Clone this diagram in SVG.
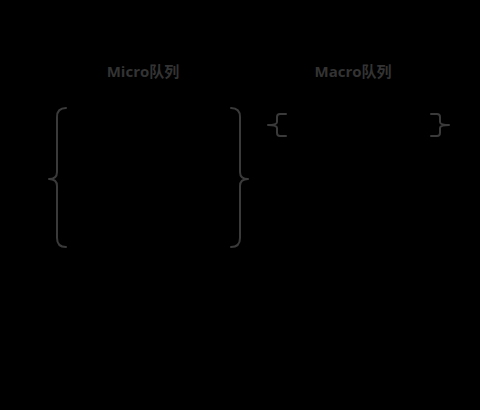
<svg xmlns="http://www.w3.org/2000/svg" width="480" height="410" viewBox="0 0 480 410">
<style>
.bg{fill:#000}
.brace{fill:none;stroke:#3a3a3a;stroke-width:2;stroke-linecap:round;stroke-linejoin:round}
.lbl{font-family:"Open Sans","Noto Sans CJK SC",sans-serif;font-weight:bold;font-size:15px;fill:#333;text-anchor:middle}
</style>
<rect class="bg" x="0" y="0" width="480" height="410"/>
<g id="micro">
<text class="lbl" x="143" y="77">Micro队列</text>
<path class="brace" d="M66,108 Q57,108 57,117 L57,172 Q57,179 49,179 Q57,179 57,186 L57,238 Q57,247 66,247"/>
<path class="brace" d="M231,108 Q240,108 240,117 L240,172 Q240,179 248,179 Q240,179 240,186 L240,238 Q240,247 231,247"/>
</g>
<g id="macro">
<text class="lbl" x="353" y="77">Macro队列</text>
<path class="brace" d="M286,114 L280,114 Q277,114 277,117 L277,122 Q277,125 268,125 Q277,125 277,128 L277,133 Q277,136 280,136 L286,136"/>
<path class="brace" d="M431,114 L437,114 Q440,114 440,117 L440,122 Q440,125 449,125 Q440,125 440,128 L440,133 Q440,136 437,136 L431,136"/>
</g>
<g id="connectors"></g>
</svg>
